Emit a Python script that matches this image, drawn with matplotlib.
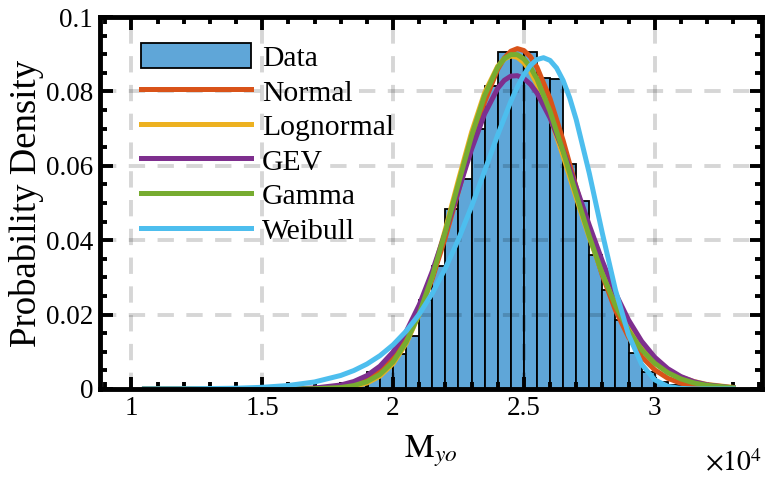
import numpy as np
import matplotlib
matplotlib.use('Agg')
import matplotlib.pyplot as plt
from matplotlib.ticker import MultipleLocator, FuncFormatter

plt.rcParams['font.family'] = ['Liberation Serif', 'DejaVu Serif']
plt.rcParams['mathtext.fontset'] = 'stix'

# histograma de M_yo (normalizado como probabilidad por clase)
bin_edges = [18000, 18500, 19000, 19500, 20000, 20500, 21000, 21500, 22000,
             22500, 23000, 23500, 24000, 24500, 25000, 25500, 26000, 26500,
             27000, 27500, 28000, 28500, 29000, 29500, 30000, 30500, 31000, 31500]
prob = [0.0008, 0.0015, 0.0047, 0.0062, 0.0095, 0.0142, 0.0240, 0.0330, 0.0485,
        0.0565, 0.0700, 0.0815, 0.0905, 0.0910, 0.0905, 0.0837, 0.0833, 0.0605,
        0.0505, 0.0360, 0.0265, 0.0185, 0.0097, 0.0045, 0.0020, 0.0010, 0.0004]

# curvas de ajuste (Normal, Lognormal, GEV, Gamma) evaluadas en x_fit
x_fit = [10500, 12000, 14000, 15000, 16000, 17000, 18000, 18500, 19000, 19500,
         20000, 20500, 21000, 21500, 22000, 22500, 23000, 23500, 24000, 24250,
         24500, 24750, 25000, 25250, 25500, 26000, 26500, 27000, 27500, 28000,
         28500, 29000, 29500, 30000, 30500, 31000, 31500, 32000, 33000]
y_normal = [0.0, 0.0, 0.0, 0.000004, 0.000028, 0.00016, 0.00074, 0.00146, 0.00276, 0.00493,
            0.00835, 0.01344, 0.02051, 0.02971, 0.04081, 0.05322, 0.06581, 0.07722, 0.08597, 0.08893,
            0.0908, 0.0915, 0.09099, 0.08931, 0.0865, 0.07803, 0.06678, 0.05422, 0.04178, 0.03052,
            0.02116, 0.01393, 0.00869, 0.00515, 0.00289, 0.00154, 0.00078, 0.00037, 0.00007]
y_lognormal = [0.0, 0.0, 0.0, 0.0, 0.000001, 0.000023, 0.000246, 0.00067, 0.00161, 0.00349,
               0.00684, 0.01224, 0.02011, 0.03052, 0.04292, 0.05621, 0.06901, 0.07965, 0.08677, 0.08871,
               0.08951, 0.08917, 0.08774, 0.0853, 0.08197, 0.0732, 0.0626, 0.05144, 0.04072, 0.0311,
               0.02295, 0.01639, 0.01136, 0.00766, 0.00502, 0.0032, 0.0020, 0.00122, 0.00042]
y_gev = [0.0, 0.0, 0.0000012, 0.0000085, 0.000052, 0.00026, 0.00107, 0.00201, 0.0036, 0.00614,
         0.00996, 0.0154, 0.02261, 0.03164, 0.04212, 0.05339, 0.06442, 0.07398, 0.08085, 0.08298,
         0.08411, 0.08423, 0.08347, 0.08191, 0.07956, 0.07286, 0.06411, 0.0542, 0.04401, 0.03435,
         0.02575, 0.01855, 0.01284, 0.00854, 0.00546, 0.00335, 0.00197, 0.00112, 0.00032]
y_gamma = [0.0, 0.0, 0.0, 0.000001, 0.00001, 0.000064, 0.00039, 0.00091, 0.00196, 0.00392,
           0.00729, 0.0126, 0.02023, 0.03028, 0.04229, 0.05531, 0.06805, 0.07892, 0.08653, 0.08878,
           0.0899, 0.08987, 0.08872, 0.0865, 0.08333, 0.07465, 0.06385, 0.05227, 0.04104, 0.03093,
           0.02241, 0.01565, 0.01056, 0.00691, 0.00438, 0.0027, 0.00163, 0.00097, 0.00031]

# Weibull con su propia malla
x_wbl = [10500, 12000, 14000, 15000, 16000, 17000, 18000, 18500, 19000, 19500,
         20000, 20500, 21000, 21500, 22000, 22500, 23000, 23500, 24000, 24500,
         24750, 25000, 25250, 25500, 25750, 26000, 26250, 26500, 26750, 27000,
         27500, 28000, 28500, 29000, 29500, 30000, 30500, 31000, 31500, 32000, 33000]
y_weibull = [0.0000075, 0.000035, 0.000204, 0.000452, 0.000944, 0.001894, 0.003637, 0.004962, 0.006703, 0.008963,
             0.01187, 0.01554, 0.02012, 0.02572, 0.03244, 0.04026, 0.04909, 0.05862, 0.06832, 0.07731,
             0.0812, 0.08449, 0.0870, 0.08856, 0.08906, 0.08833, 0.08629, 0.08293, 0.07827, 0.07241,
             0.05798, 0.0418, 0.02659, 0.01455, 0.00665, 0.002457, 0.000704, 0.000149, 0.000022, 0.000002, 0.0]

centros = [(a + b) / 2 for a, b in zip(bin_edges[:-1], bin_edges[1:])]

fig = plt.figure(figsize=(7.68, 4.79), dpi=100)
ax = fig.add_axes([0.1302, 0.1879, 0.862, 0.7766])

ax.hist(centros, bins=bin_edges, weights=prob, color='#5fa6d8', edgecolor='k',
        linewidth=1.3, label='Data', zorder=0.3)
ax.plot(x_fit, y_normal, color='#D95319', lw=3.6, label='Normal')
ax.plot(x_fit, y_lognormal, color='#EDB120', lw=3.6, label='Lognormal')
ax.plot(x_fit, y_gev, color='#7E2F8E', lw=3.6, label='GEV')
ax.plot(x_fit, y_gamma, color='#77AC30', lw=3.6, label='Gamma')
ax.plot(x_wbl, y_weibull, color='#4DBEEE', lw=3.6, label='Weibull')

ax.set_xlim(8800, 34100)
ax.set_ylim(0, 0.1)
ax.xaxis.set_major_locator(MultipleLocator(5000))
ax.xaxis.set_minor_locator(MultipleLocator(1000))
ax.yaxis.set_major_locator(MultipleLocator(0.02))
ax.yaxis.set_minor_locator(MultipleLocator(0.005))
ax.xaxis.set_major_formatter(FuncFormatter(lambda v, p: '%g' % (v / 1e4)))
ax.yaxis.set_major_formatter(FuncFormatter(lambda v, p: '%g' % round(v, 3)))

ax.set_axisbelow(True)
ax.grid(True, which='major', color='k', alpha=0.16, lw=2.8, linestyle=(0, (4.2, 3.2)))
ax.tick_params(which='both', direction='in', top=True, right=True, width=2.8,
               labelsize=19.5, pad=5)
ax.tick_params(which='major', length=9)
ax.tick_params(which='minor', length=5)
for s in ax.spines.values():
    s.set_linewidth(3.5)

ax.set_ylabel('Probability Density', fontsize=26.5, labelpad=1)
ax.set_xlabel(r'$\mathrm{M}_{\mathit{yo}}$', fontsize=24, labelpad=9)
ax.text(1.0, -0.2, r'$\times10^{4}$', transform=ax.transAxes, ha='right',
        va='center', fontsize=20)

ax.legend(loc='upper left', bbox_to_anchor=(0.03, 0.985), frameon=False, fontsize=21.3,
          handlelength=3.75, handleheight=0.92, handletextpad=0.35, labelspacing=0.2,
          borderaxespad=0.3, borderpad=0.4)

fig.savefig('out.png', dpi=100)
